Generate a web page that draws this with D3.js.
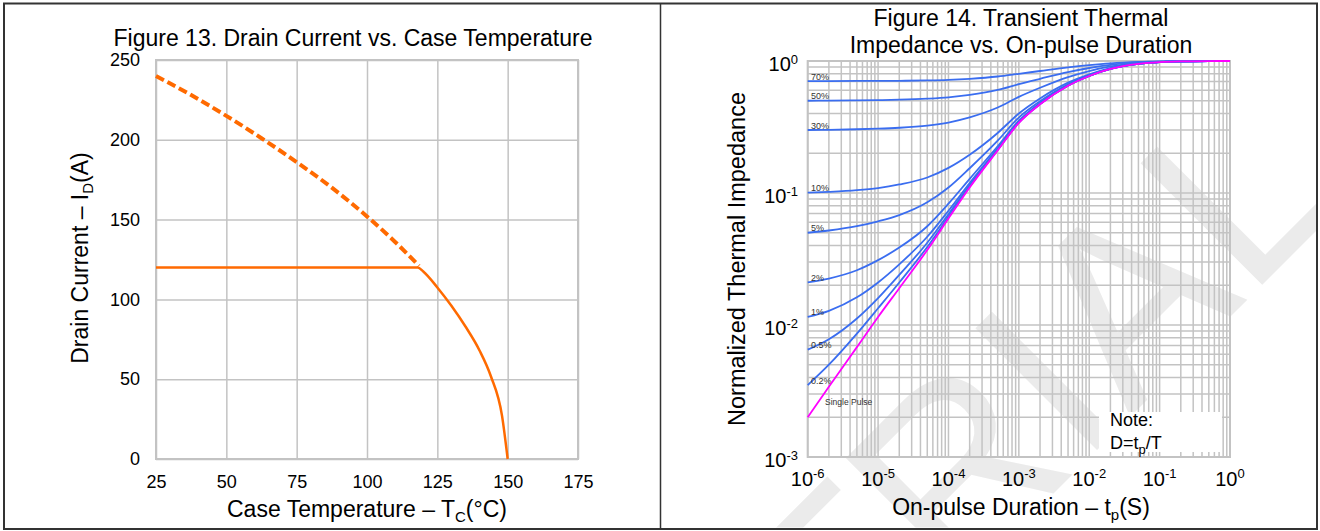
<!DOCTYPE html>
<html>
<head>
<meta charset="utf-8">
<script src="https://cdn.jsdelivr.net/npm/d3@7"></script>
<style>
body { margin: 0; background: #fff; }
svg text { font-family: "Liberation Sans", Arial, sans-serif; fill: #000; }
</style>
</head>
<body>
<svg id="chart" width="1320" height="531"></svg>
<script>
// Figure 13 data
var tempTicks = [25, 50, 75, 100, 125, 150, 175];
var currentTicks = [0, 50, 100, 150, 200, 250];
var tempDashed = [25, 37.5, 50, 62.5, 75, 87.5, 100, 110, 118.5];
var currentDashed = [240, 228, 215, 201, 186, 170, 152, 136, 121];
var tempSolid = [25, 118, 120, 125, 130, 135, 140, 144, 148, 150];
var currentSolid = [120, 120, 117.5, 107.5, 96, 83, 68, 52, 27, 0];

// Figure 14 data
var pulseExp = [-6, -5, -4, -3, -2, -1, 0];
var zthExp = [-3, -2, -1, 0];
var pulseWidth = [1e-6, 2e-6, 5e-6, 1e-5, 2e-5, 5e-5, 1e-4, 2e-4, 5e-4, 1e-3, 2e-3, 5e-3, 1e-2, 2e-2, 5e-2, 1e-1, 2e-1, 5e-1, 1];
var dutyNames = ["70%", "50%", "30%", "10%", "5%", "2%", "1%", "0.5%", "0.2%"];
var z70 = [0.705, 0.705, 0.706, 0.706, 0.708, 0.712, 0.719, 0.733, 0.763, 0.800, 0.840, 0.895, 0.931, 0.961, 0.985, 0.994, 0.998, 1.0, 1.0];
var z50 = [0.500, 0.501, 0.503, 0.505, 0.509, 0.518, 0.530, 0.553, 0.603, 0.668, 0.733, 0.825, 0.885, 0.935, 0.975, 0.990, 0.996, 0.999, 1.0];
var z30 = [0.300, 0.301, 0.304, 0.307, 0.312, 0.324, 0.342, 0.374, 0.444, 0.535, 0.627, 0.755, 0.839, 0.909, 0.965, 0.986, 0.995, 0.999, 1.0];
var z10 = [0.1005, 0.102, 0.105, 0.109, 0.116, 0.131, 0.155, 0.195, 0.285, 0.400, 0.520, 0.685, 0.793, 0.883, 0.955, 0.982, 0.994, 0.999, 1.0];
var z5 = [0.050, 0.052, 0.056, 0.061, 0.068, 0.085, 0.110, 0.154, 0.249, 0.373, 0.496, 0.667, 0.781, 0.876, 0.952, 0.981, 0.993, 0.999, 1.0];
var z2 = [0.021, 0.0225, 0.026, 0.031, 0.0386, 0.056, 0.083, 0.128, 0.226, 0.353, 0.481, 0.657, 0.775, 0.873, 0.951, 0.980, 0.993, 0.999, 1.0];
var z1 = [0.0115, 0.0128, 0.0162, 0.021, 0.0288, 0.0466, 0.0734, 0.119, 0.218, 0.347, 0.475, 0.654, 0.772, 0.871, 0.950, 0.980, 0.993, 0.999, 1.0];
var z05 = [0.0065, 0.0078, 0.0112, 0.016, 0.024, 0.042, 0.069, 0.115, 0.214, 0.343, 0.473, 0.652, 0.771, 0.871, 0.950, 0.980, 0.993, 0.999, 1.0];
var z02 = [0.0035, 0.0050, 0.0086, 0.0134, 0.021, 0.039, 0.066, 0.112, 0.212, 0.341, 0.471, 0.651, 0.770, 0.870, 0.950, 0.980, 0.993, 0.999, 1.0];
var zSingle = [0.0020, 0.0034, 0.0068, 0.0115, 0.019, 0.037, 0.064, 0.110, 0.210, 0.340, 0.470, 0.650, 0.770, 0.870, 0.950, 0.980, 0.993, 0.999, 1.0];
var dutySeries = [z70, z50, z30, z10, z5, z2, z1, z05, z02];

var gridColor = "#c3c3c3", orange = "#ff6a00", blue = "#3a6df0", magenta = "#ff00ff";
var svg = d3.select("#chart");

// text with sub/superscript parts: [string, shift, size]
function richText(parent, x, y, parts, size, anchor) {
  var t = parent.append("text").attr("x", x).attr("y", y)
    .attr("font-size", size).attr("text-anchor", anchor || "middle");
  var shift = 0;
  parts.forEach(function(p) {
    var s = p[1] || 0;
    t.append("tspan").text(p[0])
      .attr("dy", s - shift)
      .attr("font-size", s ? p[2] : size);
    shift = s;
  });
  return t;
}

// panel frames
svg.append("rect").attr("x", 4).attr("y", 3.5).attr("width", 1313).attr("height", 525.5)
  .attr("fill", "none").attr("stroke", "#333").attr("stroke-width", 2);
svg.append("line").attr("x1", 660.5).attr("x2", 660.5).attr("y1", 3).attr("y2", 529)
  .attr("stroke", "#333").attr("stroke-width", 1.5);

/* ---------- Figure 13 ---------- */
var xT = d3.scaleLinear().domain([25, 175]).range([156, 578]);
var yI = d3.scaleLinear().domain([0, 250]).range([459, 60]);
var left = svg.append("g");

left.append("g").attr("transform", "translate(0,459)")
  .call(d3.axisBottom(xT).tickValues(tempTicks).tickSize(-(459 - 60)).tickPadding(16))
  .call(styleAxis);
left.append("g").attr("transform", "translate(156,0)")
  .call(d3.axisLeft(yI).tickValues(currentTicks).tickSize(-(578 - 156)).tickPadding(16))
  .call(styleAxis);
left.append("rect").attr("x", 156).attr("y", 60).attr("width", 578 - 156).attr("height", 459 - 60)
  .attr("fill", "none").attr("stroke", gridColor).attr("stroke-width", 2);

function styleAxis(g) {
  g.select(".domain").remove();
  g.selectAll(".tick line").attr("stroke", gridColor).attr("stroke-width", 1.5);
  g.selectAll(".tick text").attr("font-size", 18).attr("fill", "#000")
    .style("font-family", "'Liberation Sans', Arial, sans-serif");
}

var lineI = d3.line().x(function(d) { return xT(d[0]); }).y(function(d) { return yI(d[1]); })
  .curve(d3.curveMonotoneX);
left.append("path").datum(d3.zip(tempDashed, currentDashed)).attr("d", lineI)
  .attr("fill", "none").attr("stroke", orange).attr("stroke-width", 4).attr("stroke-dasharray", "9,4");
left.append("path").datum(d3.zip(tempSolid, currentSolid)).attr("d", lineI)
  .attr("fill", "none").attr("stroke", orange).attr("stroke-width", 2.5);

left.append("text").attr("x", 353).attr("y", 46).attr("font-size", 23).attr("text-anchor", "middle")
  .text("Figure 13. Drain Current vs. Case Temperature");
richText(left, 367, 517, [["Case Temperature  \u2013 T"], ["C", 5, 15], ["(°C)"]], 23);
richText(left.append("g").attr("transform", "translate(88,258) rotate(-90)"), 0, 0,
  [["Drain Current \u2013 I"], ["D", 5, 15], ["(A)"]], 23);

/* ---------- Figure 14 ---------- */
var xt = d3.scaleLog().domain([1e-6, 1]).range([807.7, 1230]);
var yz = d3.scaleLog().domain([1e-3, 1]).range([457, 61]);
var right = svg.append("g");

// watermark
right.append("clipPath").attr("id", "panelClip").append("rect")
  .attr("x", 661).attr("y", 4.5).attr("width", 655).attr("height", 523);
right.append("g").attr("clip-path", "url(#panelClip)")
  .append("text").attr("transform", "translate(845,702) rotate(-45)")
  .attr("font-size", 250).style("fill", "#ebebeb").text("TRIAL");

var gridR = right.append("g");
gridR.selectAll(".vx").data(xt.ticks()).enter().append("line")
  .attr("x1", function(d) { return xt(d); }).attr("x2", function(d) { return xt(d); })
  .attr("y1", 61).attr("y2", 457).attr("stroke", gridColor).attr("stroke-width", 1.5);
gridR.selectAll(".hy").data(yz.ticks()).enter().append("line")
  .attr("y1", function(d) { return yz(d); }).attr("y2", function(d) { return yz(d); })
  .attr("x1", 807.7).attr("x2", 1230).attr("stroke", gridColor).attr("stroke-width", 1.5);
gridR.append("rect").attr("x", 807.7).attr("y", 61).attr("width", 1230 - 807.7).attr("height", 457 - 61)
  .attr("fill", "none").attr("stroke", gridColor).attr("stroke-width", 2);

// note box
right.append("rect").attr("x", 1099).attr("y", 412).attr("width", 123).attr("height", 40).attr("fill", "#fff");
right.append("text").attr("x", 1110).attr("y", 426).attr("font-size", 18).text("Note:");
richText(right, 1110, 449, [["D=t"], ["p", 5, 13], ["/T"]], 18, "start");

var lineZ = d3.line().x(function(d, i) { return xt(pulseWidth[i]); }).y(function(d) { return yz(d); })
  .curve(d3.curveMonotoneX);
dutySeries.forEach(function(s, k) {
  right.append("path").datum(s).attr("d", lineZ)
    .attr("fill", "none").attr("stroke", blue).attr("stroke-width", 1.8);
  right.append("text").attr("x", 811).attr("y", yz(s[0]) - 1.5)
    .attr("font-size", 9).style("fill", "#333").text(dutyNames[k]);
});
right.append("path").datum(zSingle).attr("d", lineZ)
  .attr("fill", "none").attr("stroke", magenta).attr("stroke-width", 1.8);
right.append("text").attr("x", 825).attr("y", 405).attr("font-size", 8.5).style("fill", "#333").text("Single Pulse");

// decade labels
pulseExp.forEach(function(e) {
  richText(right, xt(Math.pow(10, e)), 485.7, [["10"], [String(e), -7.5, 13]], 20);
});
zthExp.forEach(function(e) {
  richText(right, 798, yz(Math.pow(10, e)) + 10, [["10"], [String(e), -7.5, 13]], 20, "end");
});

right.append("text").attr("x", 1021).attr("y", 26).attr("font-size", 23).attr("text-anchor", "middle")
  .text("Figure 14. Transient Thermal");
right.append("text").attr("x", 1021).attr("y", 53).attr("font-size", 23).attr("text-anchor", "middle")
  .text("Impedance vs. On-pulse Duration");
richText(right, 1021, 515, [["On-pulse Duration \u2013 t"], ["p", 5, 15], ["(S)"]], 23);
right.append("text").attr("transform", "translate(745,259) rotate(-90)")
  .attr("font-size", 23.5).attr("text-anchor", "middle").text("Normalized Thermal Impedance");
</script>
</body>
</html>
